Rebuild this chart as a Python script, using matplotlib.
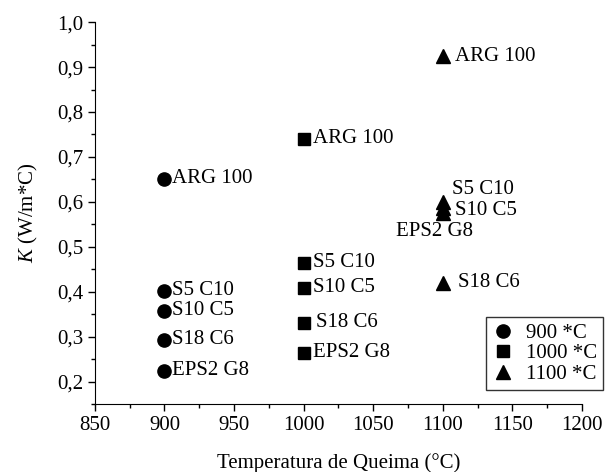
import matplotlib
matplotlib.use('Agg')
import matplotlib.pyplot as plt
from matplotlib.ticker import MultipleLocator

plt.rcParams['font.family'] = ['Liberation Serif', 'DejaVu Serif']
plt.rcParams['mathtext.fontset'] = 'custom'
plt.rcParams['mathtext.it'] = 'Liberation Serif:italic'
plt.rcParams['mathtext.rm'] = 'Liberation Serif'

# dados
amostras = ['ARG 100', 'S5 C10', 'S10 C5', 'S18 C6', 'EPS2 G8']
k_900 = [0.651, 0.402, 0.358, 0.293, 0.224]
k_1000 = [0.740, 0.464, 0.409, 0.331, 0.264]
k_1100 = [0.924, 0.600, 0.586, 0.420, 0.576]
temperaturas = [900, 1000, 1100]
legenda = ['900 *C', '1000 *C', '1100 *C']
yticks = [0.2, 0.3, 0.4, 0.5, 0.6, 0.7, 0.8, 0.9, 1.0]

# deslocamento dos rotulos (pixels)
desl_900 = [(8, 0), (8, 0), (8, 0), (8, 0), (8, 0)]
desl_1000 = [(9, 0), (9, 0), (9, 0), (12, 0), (9, 0)]
desl_1100 = [(12, 0), (9, 12), (12, -2), (15, 0), (-47, -19)]

fig = plt.figure(figsize=(6.12, 4.72), dpi=100)
ax = fig.add_axes([0.155, 0.144, 0.796, 0.809])

series = [(k_900, 'o', 9.5, desl_900), (k_1000, 's', 8, desl_1000), (k_1100, '^', 9.5, desl_1100)]
for (t, (vals, m, ms, desl), lab) in zip(temperaturas, series, legenda):
    ax.plot([t] * len(vals), vals, linestyle='none', marker=m, markersize=ms,
            color='black', label=lab)
    for nome, v, (dx, dy) in zip(amostras, vals, desl):
        ax.annotate(nome, (t, v), xytext=(dx, dy), textcoords='offset pixels',
                    ha='left', va='center', fontsize=15)

ax.set_xlim(850, 1200)
ax.xaxis.set_major_locator(MultipleLocator(50))
ax.xaxis.set_minor_locator(MultipleLocator(25))
ax.set_yticks(yticks)
ax.set_yticklabels([f'{v:.1f}'.replace('.', ',') for v in yticks])
ax.yaxis.set_minor_locator(MultipleLocator(0.05))
ax.set_ylim(0.15, 1.0)

ax.spines['top'].set_visible(False)
ax.spines['right'].set_visible(False)
ax.tick_params(which='major', direction='out', length=5, width=1, labelsize=15)
ax.tick_params(which='minor', direction='out', length=3, width=1)

ax.set_xlabel('Temperatura de Queima (°C)', fontsize=15, labelpad=13)
ax.set_ylabel(r'$K$ (W/m*C)', fontsize=15, labelpad=12)

leg = ax.legend(loc='upper right', bbox_to_anchor=(1.043, 0.228), fontsize=15,
                frameon=True, fancybox=False, edgecolor='black', handlelength=1,
                handletextpad=0.6, labelspacing=0.05, borderpad=0.3, borderaxespad=0)
leg.get_frame().set_linewidth(1)

fig.savefig('out.png', dpi=100)
